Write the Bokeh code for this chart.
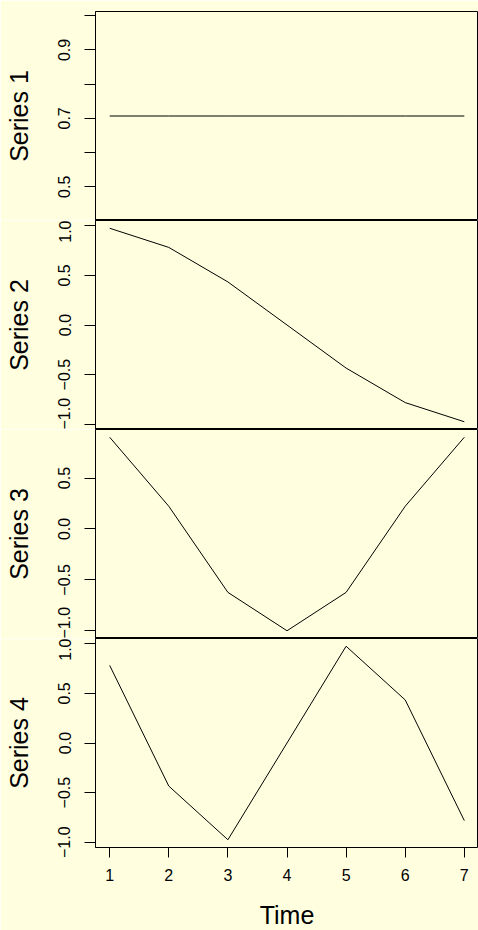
import re
from bokeh.plotting import figure
from bokeh.layouts import column
from bokeh.models import Range1d, FixedTicker
from bokeh.embed import file_html
from bokeh.resources import INLINE

# ---- data ----
time = [1, 2, 3, 4, 5, 6, 7]
series1 = [0.707, 0.707, 0.707, 0.707, 0.707, 0.707, 0.707]
series2 = [0.975, 0.782, 0.434, 0.0, -0.434, -0.782, -0.975]
series3 = [0.901, 0.223, -0.623, -1.0, -0.623, 0.223, 0.901]
series4 = [0.782, -0.434, -0.975, 0.0, 0.975, 0.434, -0.782]
series_names = ["Series 1", "Series 2", "Series 3", "Series 4"]
y_ticks = [
    [0.5, 0.6, 0.7, 0.8, 0.9, 1.0],
    [-1.0, -0.5, 0.0, 0.5, 1.0],
    [-1.0, -0.5, 0.0, 0.5],
    [-1.0, -0.5, 0.0, 0.5, 1.0],
]
y_tick_labels = [
    ["0.5", "", "0.7", "", "0.9", ""],
    ["\u22121.0", "\u22120.5", "0.0", "0.5", "1.0"],
    ["\u22121.0", "\u22120.5", "0.0", "0.5"],
    ["\u22121.0", "\u22120.5", "0.0", "0.5", "1.0"],
]
x_ticks = [1, 2, 3, 4, 5, 6, 7]
x_tick_labels = ["1", "2", "3", "4", "5", "6", "7"]
x_label = "Time"

BG = "#FFFFE0"
FONT = "Liberation Sans"


def r_range(vals):
    lo, hi = min(vals), max(vals)
    if hi == lo:
        lo, hi = lo - 0.4 * abs(lo), hi + 0.4 * abs(hi)
    d = (hi - lo) * 0.04
    return lo - d, hi + d


xlo, xhi = r_range(time)
all_series = [series1, series2, series3, series4]
figs = []
for i, (ys, name) in enumerate(zip(all_series, series_names)):
    last = i == len(all_series) - 1
    ylo, yhi = r_range(ys)
    p = figure(
        width=478,
        height=(220 if i == 0 else 209) + (83 if last else 0),
        frame_width=383,
        frame_height=209,
        x_range=Range1d(xlo, xhi),
        y_range=Range1d(ylo, yhi),
        output_backend="svg",
        toolbar_location=None,
        x_axis_location="below" if last else None,
        min_border=0,
        min_border_left=95,
        min_border_right=0,
        min_border_top=11 if i == 0 else 0,
        min_border_bottom=83 if last else 0,
        background_fill_color=BG,
        border_fill_color=BG,
        outline_line_color="black",
        outline_line_width=1,
    )
    p.grid.visible = False
    p.line(time, ys, line_color="black", line_width=1)

    ya = p.yaxis[0]
    ya.ticker = FixedTicker(ticks=y_ticks[i])
    ya.major_label_overrides = {t: l for t, l in zip(y_ticks[i], y_tick_labels[i])}
    ya.major_label_orientation = "vertical"
    ya.minor_tick_line_color = None
    ya.major_tick_in = 0
    ya.major_tick_out = 11
    ya.major_label_standoff = 14
    ya.major_label_text_font = FONT
    ya.major_label_text_font_size = "16px"
    ya.major_label_text_color = "black"
    ya.axis_label = name
    ya.axis_label_text_font = FONT
    ya.axis_label_text_font_size = "25px"
    ya.axis_label_text_font_style = "normal"
    ya.axis_label_text_color = "black"
    ya.axis_label_standoff = 23
    ya.axis_line_color = "black"
    ya.major_tick_line_color = "black"

    if last:
        xa = p.xaxis[0]
        xa.ticker = FixedTicker(ticks=x_ticks)
        xa.major_label_overrides = {t: l for t, l in zip(x_ticks, x_tick_labels)}
        xa.minor_tick_line_color = None
        xa.major_tick_in = 0
        xa.major_tick_out = 10
        xa.major_label_standoff = 11
        xa.major_label_text_font = FONT
        xa.major_label_text_font_size = "16px"
        xa.major_label_text_color = "black"
        xa.axis_label = x_label
        xa.axis_label_text_font = FONT
        xa.axis_label_text_font_size = "25px"
        xa.axis_label_text_font_style = "normal"
        xa.axis_label_text_color = "black"
        xa.axis_label_standoff = 17
        xa.axis_line_color = None
        xa.major_tick_line_color = "black"
    figs.append(p)

layout = column(*figs, spacing=0)
html = file_html(layout, INLINE)
html = re.sub(r"<body([^>]*)>", r'<body\1 style="background-color:%s;">' % BG, html, count=1)
open("out.html", "w").write(html)
